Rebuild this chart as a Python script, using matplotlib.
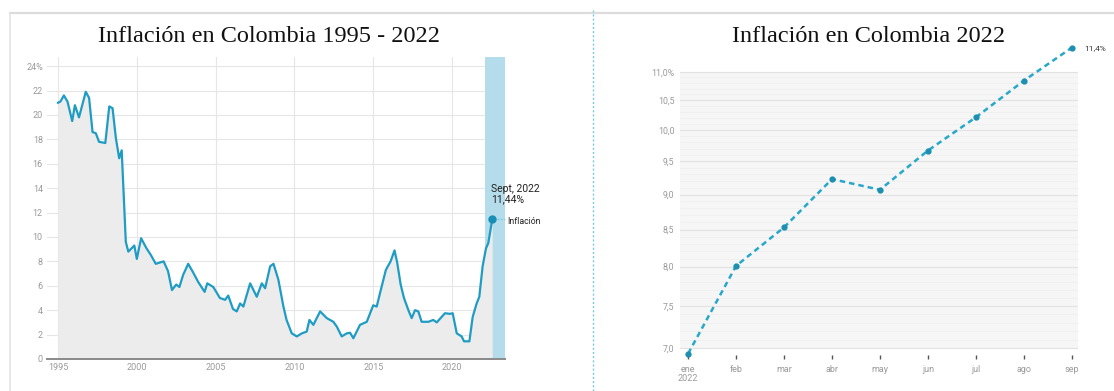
import numpy as np
import matplotlib
matplotlib.use("Agg")
import matplotlib.pyplot as plt
from matplotlib.lines import Line2D
from matplotlib.ticker import FixedLocator, FixedFormatter, NullLocator

# serie historica (fecha decimal, inflacion anual %)
hist_years = [1995.00, 1995.15, 1995.37, 1995.6, 1995.9, 1996.07, 1996.33, 1996.76, 1996.97,
              1997.19, 1997.4, 1997.6, 1998.0, 1998.25, 1998.46, 1998.67, 1998.88, 1999.04,
              1999.3, 1999.46, 1999.84, 2000.0, 2000.27, 2000.6, 2000.9, 2001.2, 2001.7,
              2001.98, 2002.23, 2002.5, 2002.7, 2002.94, 2003.26, 2003.57, 2003.9, 2004.3,
              2004.47, 2004.85, 2005.27, 2005.6, 2005.8, 2006.1, 2006.34, 2006.55, 2006.76,
              2007.19, 2007.61, 2007.93, 2008.14, 2008.46, 2008.67, 2008.98, 2009.3, 2009.5,
              2009.83, 2010.15, 2010.47, 2010.78, 2010.95, 2011.2, 2011.63, 2012.05, 2012.47,
              2012.69, 2013.0, 2013.32, 2013.53, 2013.74, 2014.16, 2014.59, 2015.0, 2015.22,
              2015.43, 2015.8, 2016.1, 2016.35, 2016.52, 2016.74, 2016.95, 2017.23, 2017.44,
              2017.65, 2017.86, 2018.07, 2018.5, 2018.81, 2019.03, 2019.34, 2019.55, 2019.87,
              2020.04, 2020.3, 2020.61, 2020.76, 2021.1, 2021.31, 2021.56, 2021.73, 2021.94,
              2022.15, 2022.3, 2022.55]
hist_vals = [21.0, 21.1, 21.6, 21.1, 19.5, 20.8, 19.8, 21.9, 21.4,
             18.6, 18.5, 17.8, 17.7, 20.7, 20.55, 18.1, 16.45, 17.1,
             9.6, 8.8, 9.3, 8.2, 9.9, 9.1, 8.5, 7.8, 8.0,
             7.2, 5.65, 6.1, 5.9, 6.9, 7.8, 7.1, 6.3, 5.5,
             6.2, 5.9, 5.0, 4.85, 5.2, 4.1, 3.9, 4.55, 4.3,
             6.2, 5.1, 6.2, 5.8, 7.6, 7.8, 6.5, 4.3, 3.2,
             2.1, 1.85, 2.1, 2.25, 3.2, 2.8, 3.9, 3.35, 3.05,
             2.65, 1.85, 2.1, 2.15, 1.7, 2.8, 3.05, 4.4, 4.3,
             5.4, 7.3, 8.0, 8.9, 7.9, 6.1, 5.0, 4.0, 3.35,
             4.0, 3.9, 3.05, 3.05, 3.2, 3.0, 3.45, 3.75, 3.7,
             3.75, 2.1, 1.85, 1.45, 1.45, 3.45, 4.55, 5.1, 7.6,
             9.05, 9.5, 11.44]
hist_xticks = [1995, 2000, 2005, 2010, 2015, 2020]
hist_yticks = [0, 2, 4, 6, 8, 10, 12, 14, 16, 18, 20, 22, 24]
hist_ylabels = ["0", "2", "4", "6", "8", "10", "12", "14", "16", "18", "20", "22", "24%"]
band = (2022.09, 2023.36)

# 2022 mes a mes
months = ["ene\n2022", "feb", "mar", "abr", "may", "jun", "jul", "ago", "sep"]
vals_2022 = [6.94, 8.01, 8.53, 9.23, 9.07, 9.67, 10.21, 10.84, 11.44]
yticks_2022 = [7.0, 7.5, 8.0, 8.5, 9.0, 9.5, 10.0, 10.5, 11.0]
ylabels_2022 = ["7,0", "7,5", "8,0", "8,5", "9,0", "9,5", "10,0", "10,5", "11,0%"]

W, H = 1114, 391
line_c = "#1f9cc4"
tick_c = "#9a9a9a"
serif = ["Liberation Serif", "DejaVu Serif"]
sans = ["Roboto", "DejaVu Sans"]

fig = plt.figure(figsize=(W / 100, H / 100), dpi=100)
fig.patch.set_facecolor("white")

# marco de la pagina
fig.add_artist(Line2D([10 / W, 1], [1 - 12.5 / H] * 2, color="#dcdcdc", lw=1.6))
fig.add_artist(Line2D([10 / W] * 2, [0, 1 - 12.5 / H], color="#e4e4e4", lw=1.2))
fig.add_artist(Line2D([592.5 / W] * 2, [0, 1 - 10 / H], color="#7cc8dc", lw=1.0, ls=(0, (1.5, 1.5))))

# ---- grafico izquierdo
ax = fig.add_axes([47 / W, 32 / H, (505 - 47) / W, (359 - 57) / H])
ax.set_xlim(1994.3, band[1])
ax.set_ylim(0, 24.75)
ax.axvspan(band[0], band[1], color="#b5dcea", zorder=1, lw=0)
ax.fill_between(hist_years, hist_vals, 0, color="#ececec", zorder=2, lw=0)
ax.plot(hist_years, hist_vals, color=line_c, lw=1.6, zorder=4, solid_joinstyle="round")
ax.plot(hist_years[-1], hist_vals[-1], "o", color="#178fb6", ms=5, zorder=5)
ax.plot([hist_years[-1] + 0.3, hist_years[-1] + 0.8], [hist_vals[-1]] * 2,
        color="#7fc6dc", lw=0.9, ls=(0, (1.5, 1.2)), zorder=5, clip_on=False)
ax.annotate("Sept, 2022\n11,44%", (hist_years[-1], hist_vals[-1]), xytext=(-1, 11),
            textcoords="offset points", fontsize=7.5, color="#222222", family=sans,
            ha="left", va="bottom", linespacing=1.05, annotation_clip=False)
ax.annotate("Inflación", (hist_years[-1], hist_vals[-1]), xytext=(11, -1.5),
            textcoords="offset points", fontsize=6.3, color="#222222", family=sans,
            ha="left", va="center", annotation_clip=False)

ax.set_xticks(hist_xticks)
ax.set_yticks(hist_yticks)
ax.set_yticklabels(hist_ylabels)
ax.grid(True, color="#e6e6e6", lw=0.8, zorder=0)
ax.set_axisbelow(True)
for s in ["top", "right", "left"]:
    ax.spines[s].set_visible(False)
ax.spines["bottom"].set_color("#8a8a8a")
ax.spines["bottom"].set_linewidth(1.4)
ax.spines["bottom"].set_zorder(6)
ax.tick_params(length=0, labelsize=6.5, labelcolor=tick_c, pad=3)
for lab in ax.get_xticklabels() + ax.get_yticklabels():
    lab.set_family(sans)

fig.text(268.5 / W, 1 - 36 / H, "Inflación en Colombia 1995 - 2022", fontsize=17.5,
         family=serif, ha="center", va="center", color="#111111")

# ---- grafico derecho (escala log)
ax2 = fig.add_axes([680 / W, 32 / H, 398 / W, 319 / H])
ax2.set_facecolor("none")
ax2.set_yscale("log")
ax2.set_xlim(-0.17, 8.13)
ax2.set_ylim(6.879, 11.585)
ax2.axhspan(7.0, 11.0, color="#f6f6f6", lw=0, zorder=0)
for v in np.arange(7.0, 11.001, 0.1):
    major = abs(v * 2 - round(v * 2)) < 1e-6
    ax2.axhline(v, color="#e2e2e2" if major else "#eeeeee", lw=0.8 if major else 0.5, zorder=1)
x2 = np.arange(len(months))
ax2.plot(x2, vals_2022, color="#27a7c9", lw=1.8, ls=(0, (2.2, 1.6)), zorder=3, clip_on=False)
ax2.plot(x2, vals_2022, "o", color="#1c8fb1", ms=3.5, zorder=4, clip_on=False)
ax2.annotate("11,4%", (x2[-1], vals_2022[-1]), xytext=(9, 0), textcoords="offset points",
             fontsize=6, color="#333333", family=sans, ha="left", va="center",
             annotation_clip=False)

ax2.yaxis.set_major_locator(FixedLocator(yticks_2022))
ax2.yaxis.set_major_formatter(FixedFormatter(ylabels_2022))
ax2.yaxis.set_minor_locator(NullLocator())
ax2.set_xticks(x2)
ax2.set_xticklabels(months)
for s in ax2.spines.values():
    s.set_visible(False)
ax2.tick_params(axis="y", length=0, labelsize=6.3, labelcolor=tick_c, pad=4)
ax2.tick_params(axis="x", direction="in", length=3, width=1, color="#555555",
                labelsize=6.5, labelcolor=tick_c, pad=4)
for lab in ax2.get_xticklabels() + ax2.get_yticklabels():
    lab.set_family(sans)
    lab.set_linespacing(1.0)

fig.text(869 / W, 1 - 36 / H, "Inflación en Colombia 2022", fontsize=17.5,
         family=serif, ha="center", va="center", color="#111111")

fig.savefig("out.png", dpi=100)
